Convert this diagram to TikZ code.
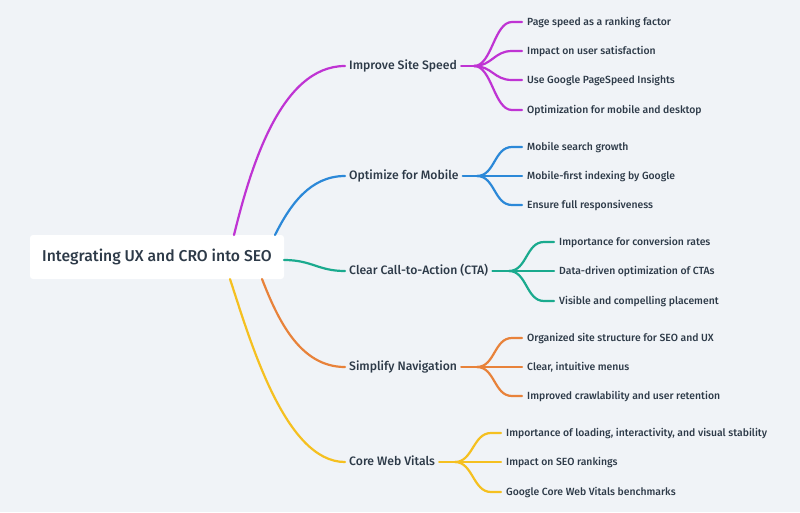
\documentclass[tikz,border=0pt]{standalone}
\usepackage{fontspec}
\setmainfont{Fira Sans Medium}
\usetikzlibrary{calc}
\definecolor{bgc}{HTML}{F0F3F7}
\definecolor{txt}{HTML}{2D3A48}
\definecolor{cpur}{HTML}{BF33D3}
\definecolor{cblu}{HTML}{2B88D8}
\definecolor{ctea}{HTML}{1AAA8E}
\definecolor{cora}{HTML}{E8823A}
\definecolor{cyel}{HTML}{F5C020}
\begin{document}
\begin{tikzpicture}[x=1pt,y=-1pt,
  rootbox/.style={fill=white,rounded corners=3pt,minimum width=254pt,minimum height=44pt,inner sep=0pt,text=txt,font=\fontsize{15.7}{18}\selectfont},
  br/.style={anchor=west,inner xsep=4pt,inner ysep=0pt,text height=0.69em,text depth=0pt,text=txt,font=\fontsize{12.2}{14}\selectfont},
  lf/.style={anchor=west,inner xsep=5pt,inner ysep=0pt,text height=0.69em,text depth=0pt,text=txt,font=\fontsize{10.4}{12}\selectfont},
  con/.style={line width=2.2pt,line cap=round}]
\fill[bgc] (0,0) rectangle (800,512);
\useasboundingbox (0,0) rectangle (800,512);
\node[rootbox] (root) at (157,257) {Integrating UX and CRO into SEO};
% branches
\node[br] (b1) at (345,66) {Improve Site Speed};
\node[br] (b2) at (345,176) {Optimize for Mobile};
\node[br] (b3) at (345,271) {Clear Call-to-Action (CTA)};
\node[br] (b4) at (345,367) {Simplify Navigation};
\node[br] (b5) at (345,462) {Core Web Vitals};
% leaves
\node[lf] (l11) at (522,22) {Page speed as a ranking factor};
\node[lf] (l12) at (522,51) {Impact on user satisfaction};
\node[lf] (l13) at (522,80) {Use Google PageSpeed Insights};
\node[lf] (l14) at (522,110) {Optimization for mobile and desktop};
\node[lf] (l21) at (522,147) {Mobile search growth};
\node[lf] (l22) at (522,176) {Mobile-first indexing by Google};
\node[lf] (l23) at (522,205) {Ensure full responsiveness};
\node[lf] (l31) at (554,242) {Importance for conversion rates};
\node[lf] (l32) at (554,271) {Data-driven optimization of CTAs};
\node[lf] (l33) at (554,301) {Visible and compelling placement};
\node[lf] (l41) at (522,338) {Organized site structure for SEO and UX};
\node[lf] (l42) at (522,367) {Clear, intuitive menus};
\node[lf] (l43) at (522,396) {Improved crawlability and user retention};
\node[lf] (l51) at (501,433) {Importance of loading, interactivity, and visual stability};
\node[lf] (l52) at (501,462) {Impact on SEO rankings};
\node[lf] (l53) at (501,492) {Google Core Web Vitals benchmarks};
% root connectors
\coordinate (s1) at (234,235);
\coordinate (s2) at (275,235);
\coordinate (s3) at (284,260);
\coordinate (s4) at (262,279);
\coordinate (s5) at (230,279);
\draw[con,cpur] (s1) .. controls (250,170) and (280,66) .. (b1.west);
\draw[con,cblu] (s2) .. controls (290,205) and (310,176) .. (b2.west);
\draw[con,ctea] (s3) .. controls (312,260) and (318,271) .. (b3.west);
\draw[con,cora] (s4) .. controls (278,320) and (300,367) .. (b4.west);
\draw[con,cyel] (s5) .. controls (250,340) and (285,462) .. (b5.west);
% fans
\coordinate (f1) at (474,66);
\coordinate (f2) at (477,176);
\coordinate (f3) at (509,271);
\coordinate (f4) at (477,367);
\coordinate (f5) at (455,462);
\draw[con,cpur] (b1.east) -- (f1);
\foreach \l in {l11,l12,l13,l14}
  \draw[con,cpur] (f1) .. controls +(18,0) and +(-18,0) .. ($(\l.west)+(-10,0)$) -- (\l.west);
\draw[con,cblu] (b2.east) -- (f2);
\foreach \l in {l21,l22,l23}
  \draw[con,cblu] (f2) .. controls +(18,0) and +(-18,0) .. ($(\l.west)+(-10,0)$) -- (\l.west);
\draw[con,ctea] (b3.east) -- (f3);
\foreach \l in {l31,l32,l33}
  \draw[con,ctea] (f3) .. controls +(18,0) and +(-18,0) .. ($(\l.west)+(-10,0)$) -- (\l.west);
\draw[con,cora] (b4.east) -- (f4);
\foreach \l in {l41,l42,l43}
  \draw[con,cora] (f4) .. controls +(18,0) and +(-18,0) .. ($(\l.west)+(-10,0)$) -- (\l.west);
\draw[con,cyel] (b5.east) -- (f5);
\foreach \l in {l51,l52,l53}
  \draw[con,cyel] (f5) .. controls +(18,0) and +(-18,0) .. ($(\l.west)+(-10,0)$) -- (\l.west);
\end{tikzpicture}
\end{document}
